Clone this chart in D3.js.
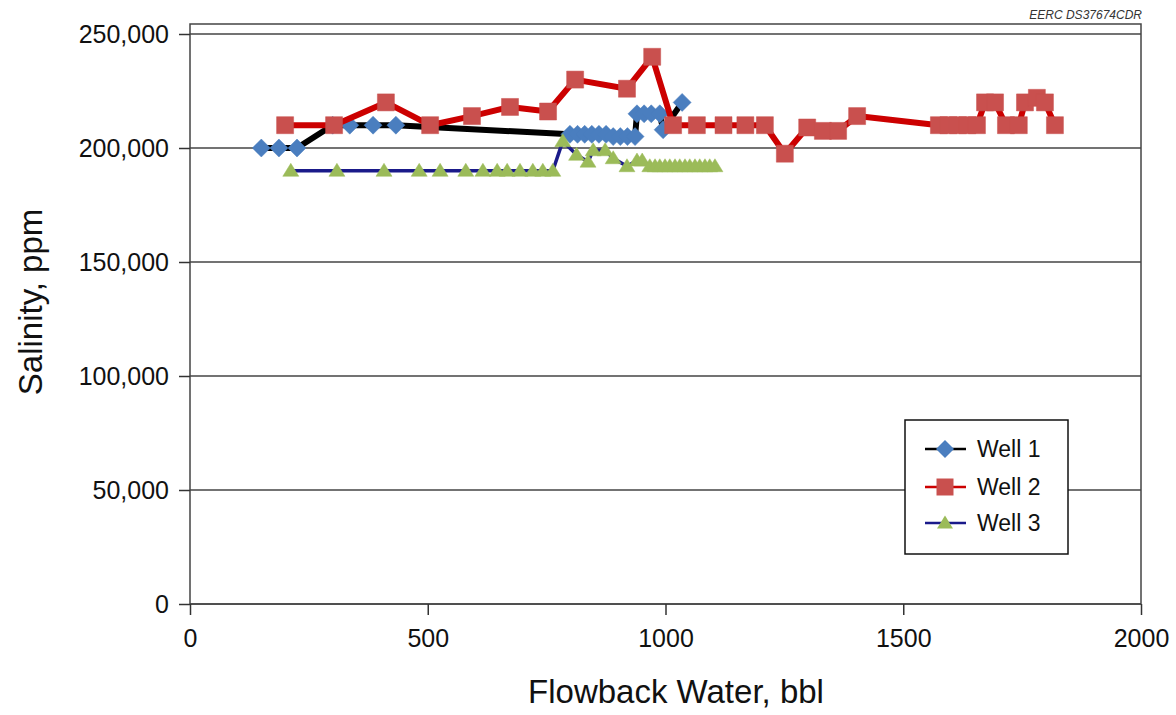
<!DOCTYPE html>
<html>
<head>
<meta charset="utf-8">
<script src="https://cdn.jsdelivr.net/npm/d3@7"></script>
<style>
	body { margin: 0; background: #fff; }
	svg { display: block; font-family: "Liberation Sans", Arial, sans-serif; }
	.axis path { display: none; }
	.axis line { stroke: #333; stroke-width: 1.5; }
	.axis text { fill: #111; font-size: 25px; }
</style>
</head>
<body>
<svg id="chart" width="1176" height="715"></svg>
<script>

// Well 1 - flowback volume (bbl) and salinity (ppm)
var well1_x = [150, 187, 225, 300, 336, 385, 433, 799, 815, 830, 845, 860, 875, 890, 905, 920, 936, 940, 955, 970, 988, 995, 1035];
var well1_y = [200000, 200000, 200000, 210000, 210000, 210000, 210000, 206000, 206000, 206000, 206000, 206000, 206000, 205000, 205000, 205000, 205000, 215000, 215000, 215000, 215000, 208000, 220000];

// Well 2
var well2_x = [200, 303, 412, 505, 593, 673, 753, 810, 919, 972, 1016, 1066, 1122, 1168, 1209, 1251, 1298, 1331, 1363, 1403, 1575, 1595, 1615, 1635, 1655, 1672, 1693, 1716, 1743, 1756, 1781, 1798, 1819];
var well2_y = [210000, 210000, 220000, 210000, 214000, 218000, 216000, 230000, 226000, 240000, 210000, 210000, 210000, 210000, 210000, 197500, 209000, 207500, 207500, 214000, 210000, 210000, 210000, 210000, 210000, 220000, 220000, 210000, 210000, 220000, 222000, 220000, 210000];

// Well 3
var well3_x = [212, 309, 408, 482, 526, 580, 616, 646, 667, 694, 721, 742, 763, 784, 813, 837, 848, 873, 890, 919, 940, 951, 967, 978, 988, 999, 1009, 1020, 1030, 1041, 1051, 1062, 1072, 1083, 1093, 1104];
var well3_y = [190000, 190000, 190000, 190000, 190000, 190000, 190000, 190000, 190000, 190000, 190000, 190000, 190000, 203000, 197000, 194000, 199000, 199000, 195500, 192000, 194500, 194500, 192000, 192000, 192000, 192000, 192000, 192000, 192000, 192000, 192000, 192000, 192000, 192000, 192000, 192000];

var series_names = ["Well 1", "Well 2", "Well 3"];
var x_ticks = [0, 500, 1000, 1500, 2000];
var y_ticks = [0, 50000, 100000, 150000, 200000, 250000];

var line_colors = ["#000000", "#cc0000", "#1a1a8a"];
var line_widths = [6, 6, 3.5];
var marker_fill = ["#4a7ebf", "#c9504e", "#9bbb59"];
var marker_shape = ["diamond", "square", "triangle"];

var svg = d3.select("#chart");

var x = d3.scaleLinear().domain([0, 2000]).range([190, 1141]),
	y = d3.scaleLinear().domain([0, 250000]).range([604, 34]);

function zip(xs, ys) {
	return xs.map(function(v, i) { return {x: v, y: ys[i]}; });
}
var series = [zip(well1_x, well1_y), zip(well2_x, well2_y), zip(well3_x, well3_y)];

function markerPath(shape) {
	if (shape === "diamond") return "M0,-9L9,0L0,9L-9,0Z";
	if (shape === "square") return "M-8.5,-8.5H8.5V8.5H-8.5Z";
	return "M0,-7.5L8,5.5L-8,5.5Z";
}

// gridlines
svg.append("g")
	.selectAll("line")
	.data(y_ticks)
	.enter().append("line")
	.attr("x1", x(0)).attr("x2", x(2000))
	.attr("y1", function(d) { return y(d); })
	.attr("y2", function(d) { return y(d); })
	.attr("stroke", "#444")
	.attr("stroke-width", 1.5);

// plot frame
svg.append("rect")
	.attr("x", x(0)).attr("y", 24)
	.attr("width", x(2000) - x(0)).attr("height", y(0) - 24)
	.attr("fill", "none")
	.attr("stroke", "#444")
	.attr("stroke-width", 1.5);

svg.append("g")
	.attr("class", "axis")
	.attr("transform", "translate(0," + y(0) + ")")
	.call(d3.axisBottom(x).tickValues(x_ticks).tickSize(11).tickPadding(14).tickFormat(d3.format("d")));

svg.append("g")
	.attr("class", "axis")
	.attr("transform", "translate(" + x(0) + ",0)")
	.call(d3.axisLeft(y).tickValues(y_ticks).tickSize(11).tickPadding(10).tickFormat(d3.format(",")));

var line = d3.line()
	.x(function(d) { return x(d.x); })
	.y(function(d) { return y(d.y); });

series.forEach(function(data, i) {
	var g = svg.append("g");
	g.append("path")
		.datum(data)
		.attr("d", line)
		.attr("fill", "none")
		.attr("stroke", line_colors[i])
		.attr("stroke-width", line_widths[i])
		.attr("stroke-linejoin", "round");
	g.selectAll(".marker")
		.data(data)
		.enter().append("path")
		.attr("class", "marker")
		.attr("transform", function(d) { return "translate(" + x(d.x) + "," + y(d.y) + ")"; })
		.attr("d", markerPath(marker_shape[i]))
		.attr("fill", marker_fill[i])
		.attr("stroke", marker_fill[i])
		.attr("stroke-width", 0.5);
});

// legend
var legend = svg.append("g");
legend.append("rect")
	.attr("x", 905).attr("y", 420)
	.attr("width", 163).attr("height", 134)
	.attr("fill", "#fff")
	.attr("stroke", "#111")
	.attr("stroke-width", 1.5);

var rows = legend.selectAll(".row")
	.data(series_names)
	.enter().append("g")
	.attr("class", "row")
	.attr("transform", function(d, i) { return "translate(0," + [449, 487, 523][i] + ")"; });

rows.append("line")
	.attr("x1", 925).attr("x2", 966)
	.attr("stroke", function(d, i) { return line_colors[i]; })
	.attr("stroke-width", 2.5);
rows.append("path")
	.attr("transform", "translate(945,0)")
	.attr("d", function(d, i) { return markerPath(marker_shape[i]); })
	.attr("fill", function(d, i) { return marker_fill[i]; });
rows.append("text")
	.attr("x", 977).attr("y", 8)
	.attr("font-size", "23px")
	.attr("fill", "#111")
	.text(function(d) { return d; });

// axis titles
svg.append("text")
	.attr("x", 676).attr("y", 703)
	.attr("text-anchor", "middle")
	.attr("font-size", "33px")
	.attr("fill", "#111")
	.text("Flowback Water, bbl");

svg.append("text")
	.attr("transform", "translate(42,302) rotate(-90)")
	.attr("text-anchor", "middle")
	.attr("font-size", "33px")
	.attr("fill", "#111")
	.text("Salinity, ppm");

svg.append("text")
	.attr("x", 1142).attr("y", 19)
	.attr("text-anchor", "end")
	.attr("font-size", "12px")
	.attr("font-style", "italic")
	.attr("fill", "#333")
	.text("EERC DS37674CDR");

</script>
</body>
</html>
